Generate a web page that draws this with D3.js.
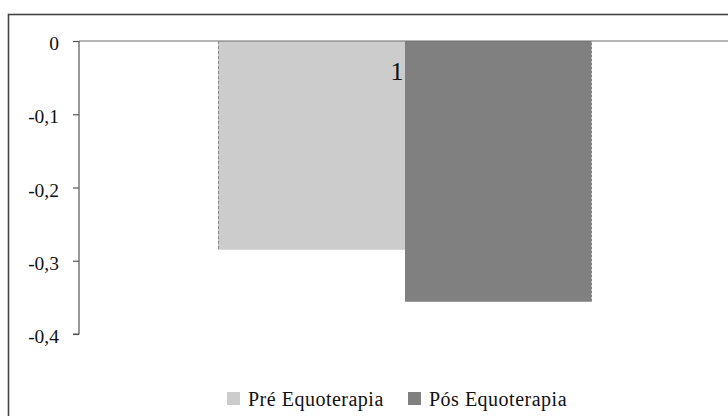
<!DOCTYPE html>
<html>
<head>
<meta charset="utf-8">
<script src="https://cdn.jsdelivr.net/npm/d3@7"></script>
<style>
  html, body { margin: 0; padding: 0; background: #fff; }
  svg { display: block; }
  svg text { font-family: 'Liberation Serif', serif !important; fill: #111; }
</style>
</head>
<body>
<svg id="chart" width="728" height="416"></svg>
<script>
// Data
const categories = ["1"];
const seriesNames = ["Pré Equoterapia", "Pós Equoterapia"];
const preValues = [-0.285];
const posValues = [-0.356];
const yTicks = [0, -0.1, -0.2, -0.3, -0.4];
const yTickLabels = ["0", "-0,1", "-0,2", "-0,3", "-0,4"];
const colors = ["#cccccc", "#808080"];

const svg = d3.select("#chart");
const W = 728, H = 416;

// Chart frame (runs past the right and bottom edges)
svg.append("rect")
  .attr("x", 8.5).attr("y", 14.5)
  .attr("width", 760).attr("height", 440)
  .attr("fill", "none")
  .attr("stroke", "#444")
  .attr("stroke-width", 1.6);

const plot = { left: 79, right: 731, top: 41, bottom: 334 };

const y = d3.scaleLinear().domain([-0.4, 0]).range([plot.bottom, plot.top]);
const x0 = d3.scaleBand().domain(categories).range([plot.left, plot.right]).padding(0.271);
const x1 = d3.scaleBand().domain(seriesNames).range([0, x0.bandwidth()]);

const rows = categories.map((c, i) => ({ cat: c, vals: [preValues[i], posValues[i]] }));

// Bars
const groups = svg.selectAll("g.cat").data(rows).enter().append("g")
  .attr("class", "cat")
  .attr("transform", d => `translate(${x0(d.cat)},0)`);

groups.selectAll("rect").data(d => d.vals.map((v, j) => ({ v, s: seriesNames[j], j })))
  .enter().append("rect")
  .attr("x", d => x1(d.s))
  .attr("y", d => y(Math.max(0, d.v)))
  .attr("width", x1.bandwidth())
  .attr("height", d => Math.abs(y(d.v) - y(0)))
  .attr("fill", d => colors[d.j]);

// Dashed outer edges of the bar group
groups.append("line")
  .attr("x1", d => x1(seriesNames[0]) + 0.5).attr("x2", d => x1(seriesNames[0]) + 0.5)
  .attr("y1", y(0)).attr("y2", d => y(d.vals[0]))
  .attr("stroke", "#8a8a8a").attr("stroke-width", 1).attr("stroke-dasharray", "3,2");
groups.append("line")
  .attr("x1", d => x1(seriesNames[1]) + x1.bandwidth() - 0.5)
  .attr("x2", d => x1(seriesNames[1]) + x1.bandwidth() - 0.5)
  .attr("y1", y(0)).attr("y2", d => y(d.vals[1]))
  .attr("stroke", "#c4c4c4").attr("stroke-width", 1).attr("stroke-dasharray", "2,2");

// Zero baseline
svg.append("line")
  .attr("x1", plot.left).attr("x2", W + 10)
  .attr("y1", y(0)).attr("y2", y(0))
  .attr("stroke", "#6e6e6e").attr("stroke-width", 1.2);

// Y axis
const yAxis = d3.axisLeft(y)
  .tickValues(yTicks)
  .tickSize(6)
  .tickPadding(14)
  .tickFormat((d, i) => yTickLabels[i]);

const gy = svg.append("g")
  .attr("transform", `translate(${plot.left},0)`)
  .call(yAxis)
  .attr("font-family", "'Liberation Serif', serif");
gy.select(".domain").attr("stroke", "#555").attr("stroke-width", 1.2)
  .attr("d", `M-6,${y(-0.4)}H0V${y(0)}`);
gy.selectAll(".tick line").attr("stroke", "#555").attr("stroke-width", 1.2);
gy.selectAll(".tick text")
  .attr("font-size", 19.5)
  .attr("fill", "#111")
  .attr("dy", "0.44em");

// Category label
svg.selectAll("text.cat").data(categories).enter().append("text")
  .attr("class", "cat")
  .attr("x", d => x0(d) + x0.bandwidth() / 2 - 8)
  .attr("y", y(0) + 39)
  .attr("text-anchor", "middle")
  .attr("font-size", 26)
  .text(d => d);

// Legend
const legendItems = [
  { name: seriesNames[0], color: colors[0], x: 227 },
  { name: seriesNames[1], color: colors[1], x: 408 }
];
const lg = svg.selectAll("g.legend").data(legendItems).enter().append("g")
  .attr("class", "legend")
  .attr("transform", d => `translate(${d.x},392)`);
lg.append("rect")
  .attr("width", 13).attr("height", 13)
  .attr("fill", d => d.color);
lg.append("text")
  .attr("x", 21).attr("y", 13.5)
  .attr("font-size", 20)
  .attr("letter-spacing", 0.5)
  .text(d => d.name);
</script>
</body>
</html>
